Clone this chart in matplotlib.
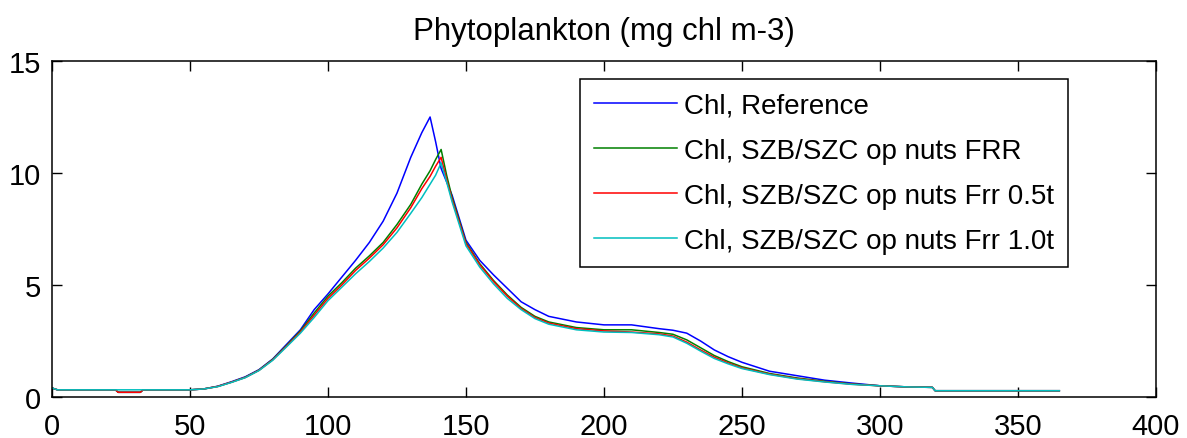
import matplotlib
matplotlib.use('Agg')
import matplotlib.pyplot as plt

plt.rcParams['font.family'] = ['Liberation Sans', 'DejaVu Sans']

# day of year
days = [0, 2, 10, 20, 23, 24, 32, 33, 40, 50, 55, 60, 65, 70, 75, 80, 85, 90, 95,
        100, 105, 110, 115, 120, 125, 130, 134, 137, 139, 141, 143, 145, 150, 155,
        160, 165, 170, 175, 180, 190, 200, 210, 220, 225, 230, 235, 240, 245, 250,
        260, 270, 280, 290, 300, 310, 319, 320, 340, 365]

chl_ref = [0.40, 0.32, 0.32, 0.32, 0.32, 0.21, 0.21, 0.32, 0.32, 0.32, 0.36, 0.48, 0.68, 0.90, 1.22, 1.70, 2.35, 3.00, 3.90,
           4.60, 5.35, 6.10, 6.90, 7.85, 9.10, 10.70, 11.80, 12.50, 11.40, 10.20, 9.60, 9.00, 7.00, 6.10,
           5.45, 4.85, 4.25, 3.90, 3.60, 3.35, 3.22, 3.22, 3.05, 2.98, 2.85, 2.50, 2.10, 1.80, 1.55,
           1.15, 0.95, 0.75, 0.62, 0.50, 0.45, 0.43, 0.28, 0.28, 0.28]

chl_frr = [0.40, 0.32, 0.32, 0.32, 0.32, 0.21, 0.21, 0.32, 0.32, 0.32, 0.36, 0.47, 0.66, 0.88, 1.20, 1.68, 2.30, 2.95, 3.75,
           4.50, 5.10, 5.75, 6.30, 6.90, 7.70, 8.60, 9.50, 10.10, 10.60, 11.05, 9.90, 8.90, 6.90, 5.95,
           5.20, 4.55, 4.00, 3.60, 3.35, 3.10, 3.00, 3.00, 2.88, 2.80, 2.55, 2.20, 1.85, 1.58, 1.35,
           1.05, 0.85, 0.70, 0.58, 0.50, 0.45, 0.43, 0.28, 0.28, 0.28]

chl_frr05 = [0.40, 0.32, 0.32, 0.32, 0.32, 0.21, 0.21, 0.32, 0.32, 0.32, 0.36, 0.47, 0.66, 0.87, 1.19, 1.66, 2.27, 2.90, 3.65,
             4.40, 5.00, 5.65, 6.20, 6.80, 7.55, 8.45, 9.30, 9.85, 10.30, 10.70, 9.70, 8.80, 6.85, 5.90,
             5.15, 4.50, 3.95, 3.55, 3.30, 3.05, 2.95, 2.90, 2.82, 2.72, 2.45, 2.10, 1.78, 1.52, 1.30,
             1.02, 0.82, 0.68, 0.57, 0.50, 0.45, 0.43, 0.28, 0.28, 0.28]

chl_frr10 = [0.40, 0.32, 0.32, 0.32, 0.32, 0.32, 0.32, 0.32, 0.32, 0.32, 0.36, 0.46, 0.65, 0.86, 1.18, 1.64, 2.24, 2.85, 3.55,
             4.30, 4.90, 5.50, 6.05, 6.65, 7.35, 8.20, 8.90, 9.50, 9.90, 10.45, 9.60, 8.70, 6.75, 5.80,
             5.05, 4.40, 3.90, 3.50, 3.25, 3.00, 2.90, 2.88, 2.78, 2.68, 2.40, 2.05, 1.72, 1.48, 1.27,
             1.00, 0.80, 0.67, 0.56, 0.50, 0.45, 0.43, 0.28, 0.28, 0.28]

labels = ['Chl, Reference', 'Chl, SZB/SZC op nuts FRR',
          'Chl, SZB/SZC op nuts Frr 0.5t', 'Chl, SZB/SZC op nuts Frr 1.0t']
colors = ['#0000ff', '#008000', '#ff0000', '#00bfbf']

fig = plt.figure(figsize=(11.87, 4.39), dpi=100)
ax = fig.add_axes([0.0438, 0.0934, 0.930, 0.7654])

for y, c, lab in zip([chl_ref, chl_frr, chl_frr05, chl_frr10], colors, labels):
    ax.plot(days, y, color=c, linewidth=1.1, label=lab)

ax.set_xlim(0, 400)
ax.set_ylim(0, 15)
ax.set_xticks(range(0, 401, 50))
ax.set_yticks([0, 5, 10, 15])
ax.tick_params(direction='in', length=7, width=1.0, labelsize=21,
               top=True, right=True)
ax.tick_params(axis='x', pad=11)
ax.tick_params(axis='y', pad=8)
for s in ax.spines.values():
    s.set_linewidth(1.1)
ax.set_title('Phytoplankton (mg chl m-3)', fontsize=22.5, pad=16)

leg = ax.legend(loc='upper right', bbox_to_anchor=(0.9203, 0.9464), borderaxespad=0,
                fontsize=20, fancybox=False, edgecolor='k', framealpha=1,
                handlelength=3.0, handletextpad=0.25, labelspacing=0.68, borderpad=0.5)
leg.get_frame().set_linewidth(1.1)

fig.savefig('out.png', dpi=100)
